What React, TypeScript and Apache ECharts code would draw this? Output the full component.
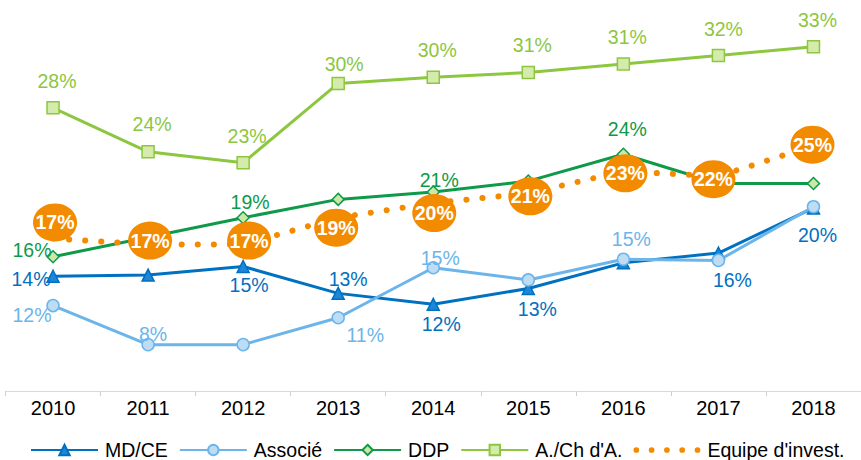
import React, { useEffect, useRef } from 'react';
import * as echarts from 'echarts';

const years = ['2010', '2011', '2012', '2013', '2014', '2015', '2016', '2017', '2018'];
const mdce = [14.0, 14.1, 14.8, 12.6, 11.7, 13.0, 15.1, 15.9, 19.6];
const associe = [11.6, 8.4, 8.4, 10.6, 14.7, 13.7, 15.4, 15.3, 19.7];
const ddp = [15.6, 17.2, 18.8, 20.3, 20.9, 21.8, 24.0, 21.6, 21.6];
const ach = [27.8, 24.2, 23.3, 29.8, 30.3, 30.7, 31.4, 32.1, 32.8];
const equipe = [17.1, 16.6, 16.6, 18.8, 20.0, 20.8, 22.6, 22.2, 24.7];

const seriesNames = ['MD/CE', 'Associé', 'DDP', "A./Ch d'A.", "Equipe d'invest."];

// label placement (offset of label centre from point), null = no label
const mdceLabelPos = [[-22, 3], null, [6, 18], [10, -14], [8, 20], [9, 21], null, [14, 27], [4, 27]];
const associeLabelPos = [[-21, 9], [5, -11], null, [27, 17], [7, -10], null, [8, -20], null, null];
const ddpLabelPos = [[-21, -7], null, [7, -16], null, [6, -12], null, [4, -25], null, null];
const achLabelPos = [[4, -27], [4, -28], [4, -27], [6, -19], [4, -27], [4, -27], [4, -27], [5, -26], [4, -27]];
const equipeBubblePos = [[2, -16], [2, -4], [6, -4], [-2, 10], [1, 10], [2, 3], [2, 2], [-5, 3], [-1, -1]];

const FONT = "'Liberation Sans', Arial, sans-serif";
const C_MD = '#0070C0';
const C_MD_FILL = '#1C86D8';
const C_AS = '#6BB5EA';
const C_AS_FILL = '#BEDDF4';
const C_DDP = '#0E9A48';
const C_DDP_FILL = '#CBE8A8';
const C_ACH = '#8DC63F';
const C_ACH_FILL = '#D5EBAB';
const C_EQ = '#F38B00';

const LABEL_SIZE = 19.5;
const AXIS_SIZE = 20;
const LEGEND_SIZE = 19.5;

const fmt = (p: any) => Math.round(p.value) + '%';

function withLabels(values: number[], pos: (number[] | null)[], color: string) {
  return values.map((v, i) => {
    const o = pos[i];
    if (!o) return { value: v, label: { show: false } };
    return {
      value: v,
      label: { show: true, position: 'inside', offset: o, color, fontSize: LABEL_SIZE, fontFamily: FONT, formatter: fmt },
    };
  });
}

function lineSeries(name: string, values: number[], pos: (number[] | null)[], color: string, fill: string, symbol: string) {
  return {
    name,
    type: 'line',
    data: withLabels(values, pos, color),
    symbol,
    symbolSize: 12,
    lineStyle: { color, width: 3 },
    itemStyle: { color: fill, borderColor: color, borderWidth: 1.5 },
    emphasis: { disabled: true },
  };
}

// five dots, with degenerate points that pad the box to the legend item aspect ratio
const dot = (cx: number) => `M${cx - 3},3a3,3 0 1,0 6,0a3,3 0 1,0 -6,0Z`;
const dotsIcon =
  'path://' + [3, 19, 35, 51, 67].map(dot).join('') + 'M35,-3.8L35.01,-3.8L35,-3.79ZM35,9.8L35.01,9.8L35,9.79Z';

function buildOption() {
  return {
    animation: false,
    grid: { left: 5.5, right: -11.2, top: 20, bottom: 69 },
    xAxis: {
      type: 'category',
      data: years,
      boundaryGap: true,
      axisLine: { show: true, lineStyle: { color: '#d9d9d9', width: 1 } },
      axisTick: { show: true, length: 5, lineStyle: { color: '#d0d0d0' } },
      axisLabel: { fontSize: AXIS_SIZE, color: '#000', fontFamily: FONT, margin: 7 },
      splitLine: { show: false },
    },
    yAxis: {
      type: 'value',
      min: 4.6,
      max: 35,
      show: false,
      splitLine: { show: false },
    },
    legend: {
      left: 30,
      top: 440,
      padding: 0,
      itemWidth: 67,
      itemHeight: 13,
      itemGap: 11,
      textStyle: { fontSize: LEGEND_SIZE, lineHeight: 19, color: '#000', fontFamily: FONT, padding: [0, 0, 0, 2] },
      data: [
        { name: seriesNames[0] },
        { name: seriesNames[1] },
        { name: seriesNames[2] },
        { name: seriesNames[3] },
        { name: seriesNames[4], icon: dotsIcon },
      ],
    },
    series: [
      lineSeries(seriesNames[0], mdce, mdceLabelPos, C_MD, C_MD_FILL, 'triangle'),
      lineSeries(seriesNames[1], associe, associeLabelPos, C_AS, C_AS_FILL, 'circle'),
      lineSeries(seriesNames[2], ddp, ddpLabelPos, C_DDP, C_DDP_FILL, 'diamond'),
      lineSeries(seriesNames[3], ach, achLabelPos, C_ACH, C_ACH_FILL, 'rect'),
      {
        name: seriesNames[4],
        type: 'line',
        z: 5,
        data: equipe.map((v, i) => ({ value: v, symbolOffset: equipeBubblePos[i] })),
        symbol: 'circle',
        symbolSize: [44, 38],
        itemStyle: { color: C_EQ, borderWidth: 0 },
        lineStyle: { color: C_EQ, width: 6, type: [0.1, 16], cap: 'round' },
        label: {
          show: true,
          position: 'inside',
          color: '#fff',
          fontWeight: 'bold',
          fontSize: LABEL_SIZE,
          fontFamily: FONT,
          formatter: fmt,
        },
        emphasis: { disabled: true },
      },
    ],
  };
}

export default function App() {
  const ref = useRef<HTMLDivElement>(null);
  useEffect(() => {
    const chart = echarts.init(ref.current!, null, { renderer: 'svg' });
    chart.setOption(buildOption() as any);
    return () => chart.dispose();
  }, []);
  return <div ref={ref} style={{ position: 'absolute', left: 0, top: 0, width: 861, height: 460 }} />;
}
